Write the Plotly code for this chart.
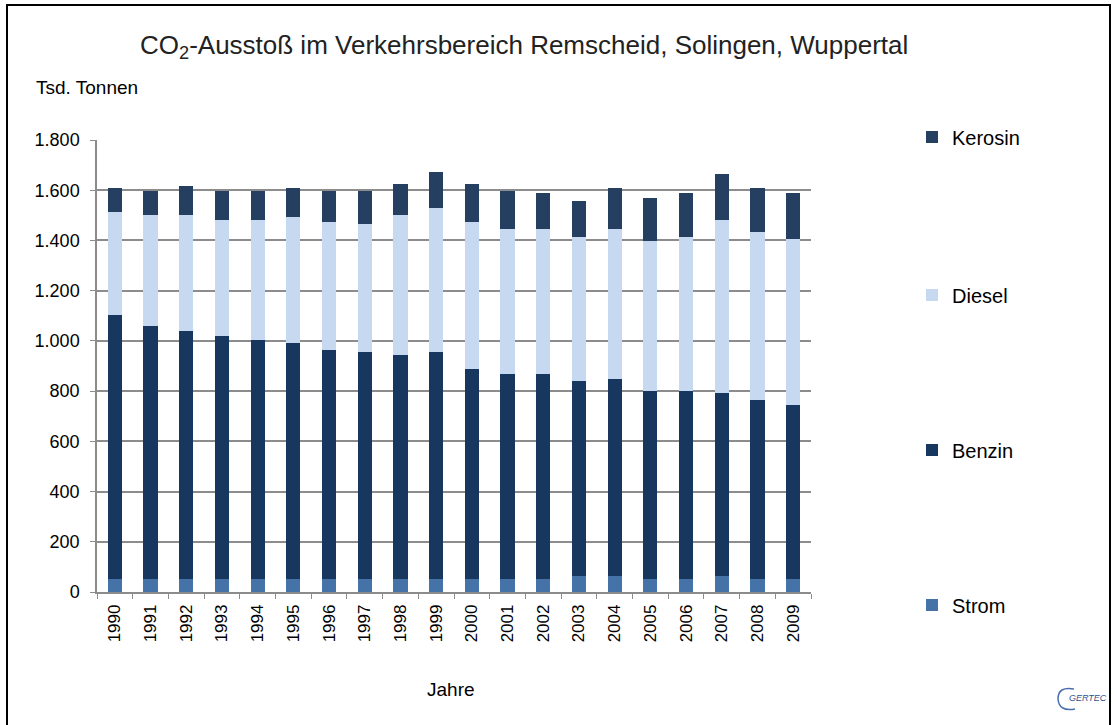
import plotly.graph_objects as go

years = [str(y) for y in range(1990, 2010)]
strom = [52, 52, 52, 52, 52, 52, 52, 52, 52, 52, 52, 52, 52, 62, 62, 52, 52, 62, 52, 52]
benzin = [1053, 1008, 988, 969, 951, 941, 912, 904, 893, 904, 836, 817, 817, 778, 787, 750, 750, 729, 711, 693]
diesel = [407, 442, 462, 461, 479, 499, 509, 508, 557, 574, 584, 575, 575, 575, 595, 594, 613, 691, 672, 662]
kerosin = [95, 95, 114, 115, 115, 115, 124, 133, 124, 144, 154, 153, 144, 143, 163, 172, 173, 182, 172, 181]

series = [
    ("Strom", strom, "#4572a7"),
    ("Benzin", benzin, "#17375e"),
    ("Diesel", diesel, "#c6d9f0"),
    ("Kerosin", kerosin, "#243f60"),
]

# plot area in pixels
L, R, T, B = 97, 811, 140, 592
W, H = R - L, B - T
def px(x):
    return (x - L) / W
def py(y):
    return (B - y) / H

FONT = "Liberation Sans, Arial, sans-serif"

fig = go.Figure()
legend_y = {"Kerosin": 137, "Diesel": 295, "Benzin": 450, "Strom": 605}
legend_names = {"Strom": "legend4", "Benzin": "legend3", "Diesel": "legend2", "Kerosin": "legend"}
for name, vals, col in series:
    fig.add_trace(go.Bar(
        x=years, y=vals, name=name,
        marker=dict(color=col, line=dict(width=0)),
        legend=legend_names[name],
    ))

leg_common = dict(font=dict(family=FONT, size=20, color="#000"), bgcolor="rgba(0,0,0,0)",
                  xanchor="left", yanchor="middle", itemwidth=30)
legends = {}
for name, key in legend_names.items():
    legends[key] = dict(x=px(912), y=py(legend_y[name]), **leg_common)

fig.update_layout(
    width=1117, height=725,
    margin=dict(l=L, r=1117 - R, t=T, b=725 - B),
    paper_bgcolor="white", plot_bgcolor="white",
    barmode="stack", bargap=0.6,
    separators=",.",
    showlegend=True,
    font=dict(family=FONT, size=17, color="#000"),
    **legends,
)
fig.update_yaxes(
    range=[0, 1800], dtick=200, tickformat=",d",
    showgrid=True, gridcolor="#8c8c8c", gridwidth=1.5,
    showline=True, linecolor="#8c8c8c", linewidth=1.5,
    ticks="outside", ticklen=5, tickcolor="#8c8c8c",
    ticklabelstandoff=7,
    tickfont=dict(family=FONT, size=18, color="#000"),
    zeroline=False, fixedrange=True,
)
fig.update_xaxes(
    type="category", tickangle=-90, tickson="boundaries",
    showline=True, linecolor="#8c8c8c", linewidth=1.5,
    ticks="outside", ticklen=5, tickcolor="#8c8c8c",
    ticklabelstandoff=4,
    tickfont=dict(family=FONT, size=17, color="#000"),
    showgrid=False, fixedrange=True,
)

annotations = [
    dict(text="CO<sub>2</sub>-Ausstoß im Verkehrsbereich Remscheid, Solingen, Wuppertal",
         x=px(524), y=py(46), xanchor="center", yanchor="middle",
         font=dict(family=FONT, size=26, color="#222")),
    dict(text="Tsd. Tonnen", x=px(34), y=py(87), xanchor="left", yanchor="middle",
         font=dict(family=FONT, size=19, color="#000")),
    dict(text="Jahre", x=px(451), y=py(689), xanchor="center", yanchor="middle",
         font=dict(family=FONT, size=19, color="#000")),
    dict(text="<i>GERTEC</i>", x=px(1067), y=py(698), xanchor="left", yanchor="middle",
         font=dict(family=FONT, size=9, color="#2f4f8f")),
]
for a in annotations:
    a.update(xref="paper", yref="paper", showarrow=False)
fig.update_layout(annotations=annotations)

# logo arc
arc = (f"M {px(1074)},{py(689)} Q {px(1058)},{py(686)} {px(1058)},{py(699)} "
       f"Q {px(1059)},{py(712)} {px(1075)},{py(709)}")
fig.add_shape(type="path", xref="paper", yref="paper", path=arc,
              line=dict(color="#4a6fb0", width=1.5))

fig.add_shape(type="rect", xref="paper", yref="paper",
              x0=px(7), x1=px(1110), y0=py(740), y1=py(5),
              line=dict(color="#000", width=2), fillcolor="rgba(0,0,0,0)", layer="above")

fig.write_html("out.html", config={"displayModeBar": False},
               post_script="document.body.style.margin='0';document.body.style.overflow='hidden';")
